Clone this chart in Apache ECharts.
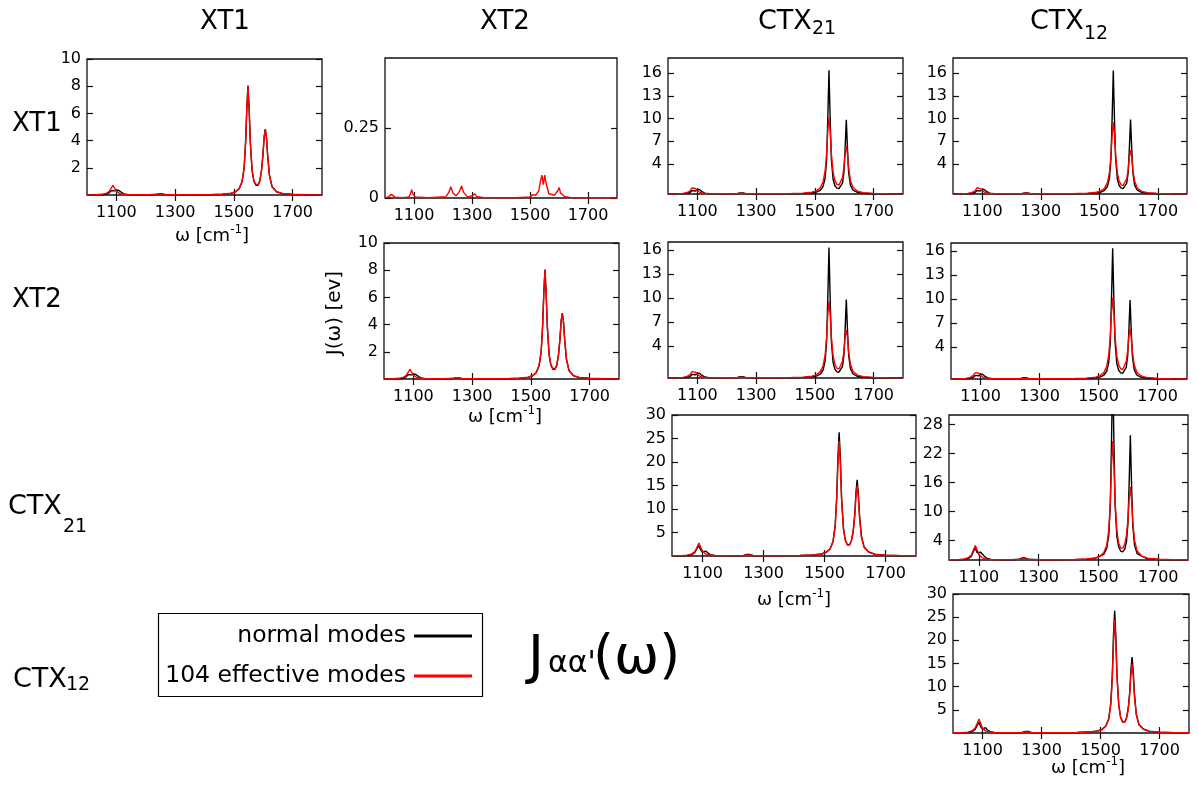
<!DOCTYPE html>
<html><head><meta charset="utf-8">
<script src="https://cdn.jsdelivr.net/npm/echarts@6/dist/echarts.min.js"></script>
<style>html,body{margin:0;padding:0;background:#fff}#c{width:1198px;height:785px}</style>
</head><body><div id="c"></div>
<script>
// shared frequency grid (cm^-1)
const omega = [1000,1030,1050,1065,1075,1082,1088,1094,1100,1106,1110,1116,1125,1140,1170,1210,1235,1245,1250,1255,1265,1300,1360,
  1420,1460,1490,1505,1518,1528,1535,1540,1544,1548,1552,1556,1562,1568,1575,1582,1588,1594,1599,1603,1607,1611,1615,1621,1630,1645,1665,1700,1750,1800];

// XT1 / XT1
const xt1xt1Black = [0.01,0.01,0.02,0.06,0.15,0.32,0.45,0.3,0.25,0.36,0.38,0.22,0.08,0.03,0.01,0.01,0.03,0.1,0.17,0.1,0.03,0.01,0.01,
  0.02,0.05,0.12,0.22,0.46,0.98,2.0,3.9,6.3,8.05,6.25,3.85,1.8,1.02,0.72,0.72,0.98,1.75,2.95,4.25,4.85,4.2,2.9,1.45,0.6,0.24,0.1,0.04,0.02,0.01];
const xt1xt1Red = [0.01,0.02,0.05,0.12,0.25,0.48,0.72,0.5,0.28,0.18,0.13,0.09,0.05,0.03,0.02,0.03,0.05,0.09,0.11,0.08,0.04,0.02,0.02,
  0.03,0.06,0.13,0.23,0.47,1.0,2.02,3.9,6.3,8.0,6.3,3.9,1.85,1.07,0.77,0.77,1.02,1.8,2.97,4.25,4.8,4.2,2.92,1.48,0.62,0.25,0.11,0.05,0.02,0.01];

// XT2 / XT1 (own grid)
const xt2xt1Omega = [1000,1012,1018,1022,1026,1034,1060,1082,1088,1092,1096,1104,1150,1210,1220,1227,1234,1245,1255,1264,1271,1285,1302,1309,1316,1340,1450,1500,1510,1515,1520,1530,1536,1541,1546,1551,1556,1565,1585,1595,1601,1605,1611,1618,1640,1700,1800];
const xt2xt1Red = [0.001,0.004,0.009,0.013,0.009,0.003,0.001,0.004,0.015,0.03,0.015,0.004,0.001,0.005,0.02,0.04,0.018,0.008,0.02,0.043,0.02,0.004,0.008,0.015,0.006,0.001,0.001,0.004,0.012,0.015,0.01,0.025,0.06,0.082,0.048,0.082,0.05,0.015,0.01,0.025,0.037,0.018,0.02,0.006,0.001,0.0005,0];

// CTX21 / XT1
const ctx21xt1Black = [0.01,0.02,0.03,0.08,0.2,0.45,0.62,0.4,0.38,0.62,0.6,0.32,0.12,0.04,0.02,0.02,0.05,0.15,0.26,0.15,0.05,0.02,0.02,
  0.03,0.06,0.14,0.24,0.47,1.0,2.15,4.63,10.0,16.37,10.02,4.67,1.96,1.12,0.77,0.72,0.88,1.44,2.88,6.05,9.82,6.01,2.81,1.17,0.5,0.21,0.1,0.04,0.02,0.01];
const ctx21xt1Red = [0.02,0.04,0.08,0.2,0.42,0.8,1.05,0.72,0.42,0.28,0.2,0.13,0.08,0.04,0.03,0.03,0.05,0.09,0.11,0.09,0.05,0.03,0.04,
  0.06,0.11,0.24,0.42,0.8,1.6,3.08,5.4,8.3,10.13,8.34,5.47,2.9,1.81,1.28,1.18,1.42,2.19,3.56,5.31,6.4,5.26,3.45,1.8,0.86,0.37,0.18,0.08,0.04,0.02];

// CTX12 / XT1
const ctx12xt1Black = [0.01,0.02,0.03,0.08,0.2,0.45,0.6,0.4,0.36,0.6,0.58,0.3,0.12,0.04,0.02,0.02,0.05,0.15,0.25,0.15,0.05,0.02,0.02,
  0.03,0.06,0.14,0.24,0.47,1.0,2.15,4.63,10.0,16.35,10.0,4.67,1.96,1.12,0.77,0.72,0.88,1.44,2.9,6.1,9.85,6.05,2.82,1.17,0.5,0.21,0.1,0.04,0.02,0.01];
const ctx12xt1Red = [0.02,0.04,0.08,0.2,0.42,0.82,1.08,0.72,0.42,0.28,0.2,0.13,0.08,0.04,0.03,0.03,0.05,0.09,0.11,0.09,0.05,0.03,0.04,
  0.06,0.1,0.23,0.4,0.75,1.5,2.9,5.1,7.8,9.5,7.85,5.15,2.75,1.7,1.2,1.12,1.33,2.05,3.3,4.95,5.8,4.9,3.2,1.68,0.8,0.35,0.17,0.08,0.04,0.02];

// XT2 / XT2
const xt2xt2Black = [0.01,0.01,0.02,0.06,0.15,0.32,0.45,0.3,0.25,0.36,0.38,0.22,0.08,0.03,0.01,0.01,0.03,0.1,0.17,0.1,0.03,0.01,0.01,
  0.02,0.05,0.12,0.22,0.46,0.98,2.0,3.9,6.3,8.05,6.25,3.85,1.8,1.02,0.72,0.72,0.98,1.75,2.95,4.25,4.85,4.2,2.9,1.45,0.6,0.24,0.1,0.04,0.02,0.01];
const xt2xt2Red = [0.01,0.02,0.05,0.12,0.25,0.48,0.72,0.5,0.28,0.18,0.13,0.09,0.05,0.03,0.02,0.03,0.05,0.09,0.11,0.08,0.04,0.02,0.02,
  0.03,0.06,0.13,0.23,0.47,1.0,2.02,3.9,6.3,8.0,6.3,3.9,1.85,1.07,0.77,0.77,1.02,1.8,2.97,4.25,4.8,4.2,2.92,1.48,0.62,0.25,0.11,0.05,0.02,0.01];

// CTX21 / XT2
const ctx21xt2Black = [0.01,0.02,0.03,0.08,0.2,0.45,0.62,0.4,0.38,0.62,0.6,0.32,0.12,0.04,0.02,0.02,0.05,0.15,0.26,0.15,0.05,0.02,0.02,
  0.03,0.06,0.14,0.24,0.47,1.0,2.15,4.63,10.0,16.3,10.0,4.67,1.96,1.12,0.77,0.72,0.88,1.44,2.88,6.05,9.8,6.0,2.81,1.17,0.5,0.21,0.1,0.04,0.02,0.01];
const ctx21xt2Red = [0.02,0.04,0.08,0.2,0.42,0.8,1.05,0.72,0.42,0.28,0.2,0.13,0.08,0.04,0.03,0.03,0.05,0.09,0.11,0.09,0.05,0.03,0.04,
  0.06,0.1,0.23,0.4,0.76,1.52,2.93,5.15,7.9,9.6,7.95,5.2,2.78,1.72,1.22,1.13,1.36,2.1,3.4,5.1,6.0,5.05,3.3,1.72,0.82,0.36,0.17,0.08,0.04,0.02];

// CTX12 / XT2
const ctx12xt2Black = [0.01,0.02,0.03,0.08,0.2,0.45,0.62,0.4,0.38,0.62,0.6,0.32,0.12,0.04,0.02,0.02,0.05,0.15,0.26,0.15,0.05,0.02,0.02,
  0.03,0.06,0.14,0.24,0.47,1.0,2.15,4.63,10.0,16.35,10.0,4.67,1.96,1.12,0.77,0.72,0.88,1.44,2.9,6.1,9.86,6.05,2.82,1.17,0.5,0.21,0.1,0.04,0.02,0.01];
const ctx12xt2Red = [0.02,0.04,0.08,0.2,0.42,0.8,1.05,0.72,0.42,0.28,0.2,0.13,0.08,0.04,0.03,0.03,0.05,0.09,0.11,0.09,0.05,0.03,0.04,
  0.06,0.11,0.24,0.42,0.8,1.6,3.08,5.4,8.3,10.15,8.34,5.47,2.9,1.81,1.28,1.18,1.42,2.19,3.56,5.31,6.3,5.2,3.4,1.78,0.85,0.37,0.18,0.08,0.04,0.02];

// CTX21 / CTX21
const ctx21ctx21Black = [0.03,0.05,0.1,0.3,0.75,1.6,2.2,1.3,0.8,1.0,1.05,0.65,0.3,0.1,0.05,0.05,0.12,0.35,0.52,0.33,0.12,0.05,0.05,
  0.1,0.2,0.43,0.8,1.5,3.1,6.5,12.5,21.0,26.3,20.9,12.4,6.0,3.45,2.4,2.4,3.2,5.3,8.7,13.4,16.2,13.3,8.5,4.2,1.9,0.88,0.4,0.15,0.06,0.03];
const ctx21ctx21Red = [0.04,0.08,0.18,0.45,0.95,1.85,2.75,1.9,1.0,0.6,0.45,0.3,0.17,0.1,0.06,0.07,0.12,0.22,0.3,0.22,0.12,0.06,0.06,
  0.1,0.2,0.4,0.7,1.45,3.0,6.2,12.0,19.5,24.5,19.5,12.0,5.9,3.35,2.35,2.35,3.1,5.0,8.3,12.5,15.0,12.4,8.1,4.0,1.8,0.78,0.35,0.15,0.07,0.04];

// CTX12 / CTX21
const ctx12ctx21Black = [0.03,0.05,0.1,0.3,0.8,1.8,2.5,1.5,1.1,1.6,1.65,0.95,0.4,0.12,0.05,0.05,0.15,0.45,0.7,0.42,0.15,0.06,0.06,
  0.08,0.16,0.35,0.8,1.16,2.45,5.27,11.4,24.6,40.2,24.6,11.4,4.83,2.7,1.8,1.72,2.2,3.76,7.54,15.9,25.8,15.8,7.38,3.07,1.3,0.8,0.26,0.1,0.05,0.03];
const ctx12ctx21Red = [0.04,0.08,0.2,0.5,1.05,2.1,3.0,2.1,1.1,0.7,0.5,0.32,0.18,0.1,0.06,0.07,0.12,0.22,0.3,0.22,0.12,0.06,0.06,
  0.1,0.2,0.42,0.75,1.5,3.05,6.3,12.1,19.6,24.6,19.6,12.1,6.0,3.45,2.45,2.45,3.2,5.1,8.4,12.6,15.1,12.5,8.2,4.05,1.85,0.82,0.36,0.16,0.07,0.04];

// CTX12 / CTX12
const ctx12ctx12Black = [0.03,0.05,0.1,0.3,0.78,1.65,2.3,1.35,0.85,1.1,1.15,0.7,0.3,0.1,0.05,0.05,0.12,0.35,0.52,0.33,0.12,0.05,0.05,
  0.1,0.2,0.43,0.8,1.5,3.1,6.5,12.5,21.1,26.4,21.0,12.4,6.0,3.45,2.4,2.4,3.2,5.35,8.8,13.6,16.4,13.5,8.6,4.25,1.9,0.88,0.4,0.15,0.06,0.03];
const ctx12ctx12Red = [0.04,0.08,0.2,0.5,1.05,2.05,3.0,2.05,1.05,0.62,0.46,0.3,0.17,0.1,0.06,0.07,0.12,0.22,0.3,0.22,0.12,0.06,0.06,
  0.1,0.2,0.4,0.7,1.45,3.0,6.2,11.9,19.4,24.4,19.4,11.9,5.9,3.35,2.35,2.35,3.1,5.0,8.25,12.4,14.9,12.3,8.0,4.0,1.8,0.78,0.35,0.15,0.07,0.04];

// axis ranges and tick labels per panel
const xTicks = [1100,1300,1500,1700];
const yTicks10 = [2,4,6,8,10];
const yTicksHalf = [0,0.25];
const yTicks16 = [4,7,10,13,16];
const yTicks30 = [5,10,15,20,25,30];
const yTicks28 = [4,10,16,22,28];

const panels = [
  {ymax:10,  yticks:yTicks10,  x:omega,       black:xt1xt1Black,     red:xt1xt1Red},
  {ymax:0.5, yticks:yTicksHalf,x:xt2xt1Omega, black:null,            red:xt2xt1Red},
  {ymax:18,  yticks:yTicks16,  x:omega,       black:ctx21xt1Black,   red:ctx21xt1Red},
  {ymax:18,  yticks:yTicks16,  x:omega,       black:ctx12xt1Black,   red:ctx12xt1Red},
  {ymax:10,  yticks:yTicks10,  x:omega,       black:xt2xt2Black,     red:xt2xt2Red},
  {ymax:17,  yticks:yTicks16,  x:omega,       black:ctx21xt2Black,   red:ctx21xt2Red},
  {ymax:17,  yticks:yTicks16,  x:omega,       black:ctx12xt2Black,   red:ctx12xt2Red},
  {ymax:30,  yticks:yTicks30,  x:omega,       black:ctx21ctx21Black, red:ctx21ctx21Red},
  {ymax:30,  yticks:yTicks28,  x:omega,       black:ctx12ctx21Black, red:ctx12ctx21Red},
  {ymax:30,  yticks:yTicks30,  x:omega,       black:ctx12ctx12Black, red:ctx12ctx12Red}
];

// panel boxes (px)
const layout = [
  {l:87,t:59,w:235,h:136},
  {l:385,t:58,w:232,h:140},
  {l:668,t:58,w:235,h:136},
  {l:953,t:58,w:234,h:136},
  {l:384,t:243,w:235,h:136},
  {l:668,t:242,w:235,h:136},
  {l:951,t:243,w:236,h:136},
  {l:672,t:415,w:244,h:141},
  {l:949,t:415,w:239,h:145},
  {l:953,t:594,w:236,h:139}
];

const FONT = 'DejaVu Sans';
const chart = echarts.init(document.getElementById('c'), null, {renderer:'canvas'});
const grids = [], xAxes = [], yAxes = [], series = [];
const fmt = v => String(v);
panels.forEach((p, i) => {
  const L = layout[i];
  grids.push({left:L.l, top:L.t, width:L.w, height:L.h, show:true, borderColor:'#111', borderWidth:1.3, backgroundColor:'rgba(0,0,0,0)'});
  const tick = {show:true, inside:true, length:6, lineStyle:{color:'#111', width:1.2}};
  xAxes.push({type:'value', gridIndex:i, position:'bottom', min:1000, max:1800,
    axisLine:{show:false}, splitLine:{show:false},
    axisTick:Object.assign({}, tick, {customValues:xTicks}),
    axisLabel:{customValues:xTicks, formatter:fmt, margin:10, fontSize:16, fontFamily:FONT, color:'#000'}});
  xAxes.push({type:'value', gridIndex:i, position:'top', min:1000, max:1800,
    axisLine:{show:false}, splitLine:{show:false},
    axisTick:Object.assign({}, tick, {customValues:xTicks}), axisLabel:{show:false}});
  yAxes.push({type:'value', gridIndex:i, position:'left', min:0, max:p.ymax,
    axisLine:{show:false}, splitLine:{show:false},
    axisTick:Object.assign({}, tick, {customValues:p.yticks}),
    axisLabel:{customValues:p.yticks, formatter:fmt, margin:6, fontSize:16, fontFamily:FONT, color:'#000'}});
  yAxes.push({type:'value', gridIndex:i, position:'right', min:0, max:p.ymax,
    axisLine:{show:false}, splitLine:{show:false},
    axisTick:Object.assign({}, tick, {customValues:p.yticks}), axisLabel:{show:false}});
  if (p.black) {
    series.push({type:'line', name:'normal modes', xAxisIndex:2*i, yAxisIndex:2*i,
      data:p.x.map((x,k)=>[x, p.black[k]]), showSymbol:false, symbol:'none', clip:true,
      lineStyle:{color:'#000', width:1.4}, itemStyle:{color:'#000'}, z:2, silent:true});
  }
  series.push({type:'line', name:'104 effective modes', xAxisIndex:2*i, yAxisIndex:2*i,
    data:p.x.map((x,k)=>[x, p.red[k]]), showSymbol:false, symbol:'none', clip:true,
    lineStyle:{color:'#ff0000', width:1.4}, itemStyle:{color:'#ff0000'}, z:3, silent:true});
});

function T(text, x, y, size, align) {
  return {type:'text', x:x, y:y, silent:true,
    style:{text:text, fontSize:size, fontFamily:FONT, fill:'#000', align:align||'center', verticalAlign:'middle'}};
}
function omegaLabel(x, y) {
  return {type:'text', x:x, y:y, silent:true,
    style:{text:'{a|ω [cm}{s|-1}{a|]}', align:'center', verticalAlign:'middle', fill:'#000',
      rich:{a:{fontSize:18, fontFamily:FONT, lineHeight:24, verticalAlign:'middle', fill:'#000'},
            s:{fontSize:12, fontFamily:FONT, lineHeight:12, verticalAlign:'top', fill:'#000'}}}};
}

const graphics = [
  T('XT1', 225, 22, 26), T('XT2', 505, 22, 26),
  T('CTX', 758, 22, 27, 'left'), T('21', 812, 29, 19, 'left'),
  T('CTX', 1030, 22, 27, 'left'), T('12', 1084, 34, 19, 'left'),
  T('XT1', 12, 124, 26, 'left'), T('XT2', 12, 300, 26, 'left'),
  T('CTX', 8, 507, 27, 'left'), T('21', 63, 527, 19, 'left'),
  T('CTX', 13, 680, 27, 'left'), T('12', 66, 685, 19, 'left'),
  omegaLabel(212, 236), omegaLabel(505, 417), omegaLabel(794, 600), omegaLabel(1088, 768),
  {type:'text', x:335, y:313, rotation:Math.PI/2, silent:true,
    style:{text:'J(ω) [ev]', fontSize:20, fontFamily:FONT, fill:'#000', align:'center', verticalAlign:'middle'}},
  // legend box
  {type:'rect', shape:{x:158.5, y:613.5, width:324, height:83}, silent:true,
    style:{fill:'#fff', stroke:'#000', lineWidth:1.2}},
  T('normal modes', 406, 636, 23.5, 'right'),
  T('104 effective modes', 406, 676, 23.5, 'right'),
  {type:'line', shape:{x1:414, y1:636, x2:472, y2:636}, silent:true, style:{stroke:'#000', lineWidth:3}},
  {type:'line', shape:{x1:414, y1:676, x2:472, y2:676}, silent:true, style:{stroke:'#ff0000', lineWidth:3}},
  // J_{αα'}(ω)
  T('J', 528, 659, 54, 'left'),
  T("αα'", 548, 664, 30, 'left'),
  T('(ω)', 593, 659, 54, 'left')
];

chart.setOption({
  animation:false,
  backgroundColor:'#fff',
  grid:grids, xAxis:xAxes, yAxis:yAxes, series:series,
  graphic:graphics
});
</script></body></html>
